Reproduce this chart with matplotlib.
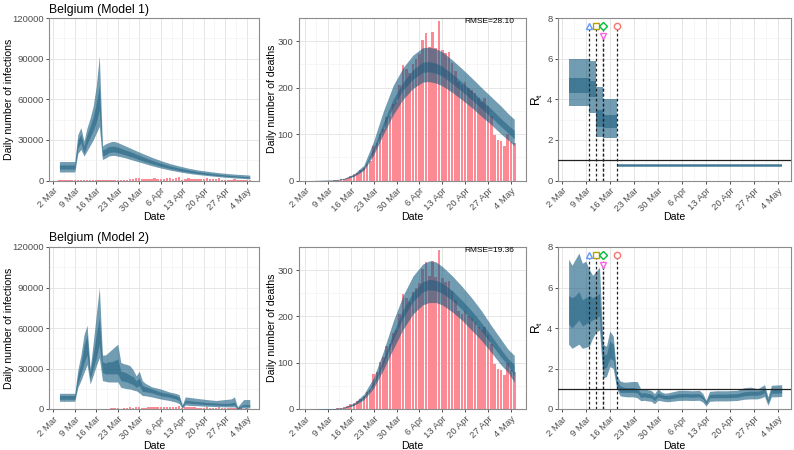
import matplotlib
matplotlib.use('Agg')
import matplotlib.pyplot as plt

plt.rcParams['font.family'] = ['Liberation Sans', 'DejaVu Sans']

# ---------------- data ----------------
tick_days = [0, 7, 14, 21, 28, 35, 42, 49, 56, 63]
tick_labels = ['2 Mar', '9 Mar', '16 Mar', '23 Mar', '30 Mar', '6 Apr', '13 Apr', '20 Apr', '27 Apr', '4 May']

obs_days = list(range(2, 65))
deaths = [0, 0, 0, 0, 0, 0, 0, 1, 2, 3, 4, 6, 10, 13, 17, 22, 28, 36, 42, 75, 80, 101, 112, 137, 140,
          165, 170, 205, 249, 240, 231, 252, 262, 272, 303, 317, 288, 319, 286, 344, 282, 275, 276,
          254, 235, 212, 206, 212, 200, 196, 188, 178, 170, 178, 160, 140, 98, 87, 85, 74, 100, 84, 81]
cases = [5, 10, 60, 59, 60, 30, 39, 28, 47, 85, 160, 130, 197, 172, 185, 243, 309, 462, 558, 586,
         342, 526, 668, 1298, 1049, 1850, 1702, 1063, 876, 1384, 1422, 1661, 1260, 1123, 1209, 1580,
         1684, 1351, 1629, 2454, 530, 1200, 1580, 1236, 1329, 1054, 933, 1045, 1487, 973, 1032, 933,
         1496, 701, 553, 647, 660, 1032, 620, 485, 360, 455, 361]

# Model 1 infections
inf1_days = [2, 3, 4, 5, 6, 7, 8, 9, 10, 11, 12, 13, 14, 15, 16, 17, 18, 19, 20, 21,
             23, 26, 29, 32, 35, 38, 41, 44, 47, 50, 53, 56, 59, 62, 64]
inf1_lo95 = [6300, 6300, 6300, 6300, 6300, 6300, 20000, 23000, 18000, 22000, 26000, 30000, 35000, 40000,
             15500, 16500, 18000, 18500, 18500, 18000, 17000, 15000, 13000, 11000, 9200, 7700, 6400,
             5300, 4400, 3700, 3000, 2400, 1900, 1500, 1200]
inf1_lo50 = [8500, 8500, 8500, 8500, 8500, 8500, 24000, 28000, 20000, 27000, 32000, 37000, 43000, 52000,
             18000, 19000, 20500, 21000, 21000, 20500, 19200, 17000, 14600, 12500, 10500, 8800, 7400,
             6200, 5200, 4400, 3700, 3100, 2600, 2100, 1800]
inf1_hi50 = [11500, 11500, 11500, 11500, 11500, 11500, 30000, 34000, 25000, 34000, 40000, 47000, 57000, 70000,
             22500, 23500, 25000, 25300, 25300, 24700, 23000, 20500, 17600, 15000, 12800, 10800, 9200,
             7800, 6600, 5600, 4800, 4100, 3500, 3000, 2700]
inf1_hi95 = [14000, 14000, 14000, 14000, 14000, 14000, 34000, 39000, 29000, 39000, 46000, 55000, 70000, 92000,
             25500, 27000, 28000, 28800, 28800, 28000, 26000, 23000, 20000, 17200, 14700, 12500, 10700,
             9100, 7800, 6900, 6000, 5300, 4700, 4300, 4000]

# Model 2 infections
inf2_days = [2, 3, 4, 5, 6, 7, 8, 9, 10, 11, 12, 13, 14, 15, 16, 17, 18, 19, 20, 21, 22, 23, 24, 25,
             26, 27, 28, 29, 30, 32, 35, 38, 40, 41, 42, 43, 44, 47, 50, 53, 56, 58, 59, 60, 62, 64]
inf2_lo95 = [5700, 5700, 5700, 5700, 5700, 5700, 16000, 21000, 27000, 33000, 18500, 25000, 32000, 38000,
             21000, 20500, 20000, 20000, 20000, 20000, 16000, 15500, 15000, 14800, 14000, 13500, 12000,
             10000, 9800, 9000, 7400, 6200, 5000, 4000, 500, 3000, 2700, 2400, 2000, 1800, 1600, 1500,
             1600, 200, 800, 700]
inf2_lo50 = [7200, 7200, 7200, 7200, 7200, 7200, 19000, 26000, 34000, 40000, 22000, 30000, 38000, 48000,
             27000, 26000, 26000, 26000, 26000, 26000, 21000, 20500, 20000, 19000, 18000, 16000, 17500,
             13000, 12800, 12000, 9800, 8700, 7300, 6300, 1200, 4500, 4300, 3800, 3200, 2900, 2600, 2700,
             2900, 500, 2000, 1900]
inf2_hi50 = [10000, 10000, 10000, 10000, 10000, 10000, 25000, 34000, 47000, 55000, 27000, 41000, 55000, 68000,
             35000, 34000, 35000, 35000, 36000, 37000, 28000, 27500, 26500, 25000, 24000, 21000, 23000,
             17500, 16500, 15000, 12500, 11200, 9800, 8800, 2400, 6500, 6200, 5500, 4800, 4400, 4000, 4500,
             5000, 1100, 3300, 3200]
inf2_hi95 = [11600, 11600, 11600, 11600, 11600, 11600, 29000, 40000, 55000, 62000, 30000, 49000, 70000, 90000,
             40000, 40000, 42000, 44000, 46000, 48000, 34500, 33500, 33000, 32000, 29000, 24600, 28000,
             21000, 19000, 16500, 14800, 12500, 11500, 10500, 3000, 9000, 8700, 7800, 7000, 6300, 7000, 7500,
             9000, 1600, 7000, 7000]

# Deaths fits
dth_days = [2, 9, 12, 15, 18, 21, 24, 27, 30, 33, 36, 38, 40, 42, 45, 48, 51, 54, 57, 60, 62, 64]
dth1_lo95 = [0, 0, 3, 9, 22, 55, 100, 142, 175, 198, 212, 213, 210, 204, 190, 174, 157, 138, 120, 100, 88, 75]
dth1_lo50 = [0, 0, 3, 10, 25, 62, 112, 160, 195, 218, 233, 234, 231, 225, 209, 192, 174, 155, 136, 116, 103, 90]
dth1_hi50 = [0, 1, 4, 12, 28, 70, 125, 176, 212, 238, 255, 256, 253, 246, 230, 212, 193, 173, 154, 133, 120, 108]
dth1_hi95 = [0, 1, 5, 14, 33, 85, 150, 205, 243, 270, 286, 287, 284, 277, 260, 241, 221, 200, 180, 160, 145, 132]
dth2_lo95 = [0, 0, 2, 8, 20, 45, 85, 130, 172, 205, 225, 230, 230, 225, 210, 192, 170, 148, 122, 95, 80, 58]
dth2_lo50 = [0, 0, 3, 9, 24, 52, 98, 150, 197, 232, 253, 258, 256, 250, 235, 215, 192, 168, 140, 112, 95, 72]
dth2_hi50 = [0, 1, 3, 11, 27, 58, 108, 165, 215, 252, 275, 280, 278, 272, 256, 235, 212, 186, 158, 128, 110, 96]
dth2_hi95 = [0, 1, 4, 13, 32, 68, 125, 190, 245, 287, 313, 320, 318, 308, 288, 265, 240, 212, 180, 150, 130, 116]
rmse1 = 'RMSE=28.10'
rmse2 = 'RMSE=19.36'

# Rt model 1 (piecewise constant)
rt1_breaks = [2, 8, 10, 12, 16, 64]
rt1_lo95 = [3.69, 3.34, 2.16, 2.07, 0.65]
rt1_lo50 = [4.3, 4.13, 2.65, 2.57, 0.69]
rt1_hi50 = [5.05, 4.9, 3.47, 3.23, 0.77]
rt1_hi95 = [6.0, 5.86, 4.6, 4.02, 0.81]

# Rt model 2
rt2_days = [2, 3, 4, 5, 6, 7, 8, 9, 10, 11, 12, 13, 14, 15, 16, 17, 18, 19, 20, 21, 22, 23, 24, 25, 26,
            27, 28, 29, 30, 31, 32, 33, 34, 36, 38, 40, 41, 42, 43, 45, 48, 51, 53, 55, 57, 58, 59, 60,
            61, 62, 64]
rt2_lo95 = [3.2, 3.0, 3.1, 3.2, 3.0, 3.05, 3.1, 3.5, 3.8, 3.9, 1.55, 1.6, 2.1, 2.0, 1.0, 0.65, 0.62, 0.6,
            0.6, 0.6, 0.55, 0.41, 0.43, 0.4, 0.38, 0.26, 0.43, 0.4, 0.37, 0.36, 0.38, 0.4, 0.42, 0.43, 0.42,
            0.43, 0.35, 0.15, 0.38, 0.4, 0.4, 0.42, 0.48, 0.5, 0.5, 0.55, 0.62, 0.18, 0.6, 0.6, 0.62]
rt2_lo50 = [4.2, 4.0, 4.2, 4.4, 4.1, 4.2, 4.3, 4.4, 4.5, 4.6, 2.0, 2.05, 2.5, 2.4, 1.15, 0.82, 0.82, 0.82,
            0.82, 0.82, 0.78, 0.57, 0.6, 0.57, 0.55, 0.42, 0.6, 0.55, 0.5, 0.5, 0.52, 0.55, 0.58, 0.6, 0.58,
            0.6, 0.5, 0.25, 0.55, 0.56, 0.56, 0.58, 0.65, 0.68, 0.68, 0.72, 0.8, 0.3, 0.78, 0.78, 0.8]
rt2_hi50 = [5.6, 5.5, 5.6, 5.8, 5.4, 5.5, 5.6, 5.5, 5.6, 5.7, 2.7, 2.7, 3.35, 3.2, 1.4, 1.15, 1.08, 1.06,
            1.06, 1.06, 1.0, 0.8, 0.8, 0.77, 0.75, 0.6, 0.8, 0.73, 0.67, 0.67, 0.7, 0.73, 0.76, 0.76, 0.75,
            0.76, 0.65, 0.36, 0.72, 0.74, 0.74, 0.76, 0.85, 0.88, 0.88, 0.92, 1.02, 0.45, 1.0, 1.0, 1.02]
rt2_hi95 = [7.4, 7.1, 7.4, 7.7, 7.2, 7.3, 6.9, 6.6, 6.8, 7.0, 3.2, 3.1, 3.85, 3.6, 1.65, 1.38, 1.33, 1.33,
            1.35, 1.36, 1.35, 0.98, 1.0, 0.95, 0.92, 0.76, 1.0, 0.84, 0.78, 0.8, 0.84, 0.88, 0.92, 0.92, 0.9,
            0.92, 0.78, 0.43, 0.87, 0.9, 0.9, 0.92, 1.05, 1.08, 1.0, 1.1, 1.2, 0.6, 1.17, 1.18, 1.2]

# Interventions
npi_days = [8, 10, 12, 12, 16]
npi_y = [7.6, 7.6, 7.6, 7.1, 7.6]
npi_markers = ['^', 's', 'D', 'v', 'o']
npi_colors = ['#619CFF', '#B79F00', '#00BA38', '#F564E3', '#F8766D']

titles = ['Belgium (Model 1)', 'Belgium (Model 2)']

# ---------------- style ----------------
BAND = '#145A7D'
BAR = '#FB8A94'
W, H = 794, 450


def axpos(x0, x1, ytop, ybot):
    return [x0 / W, 1 - ybot / H, (x1 - x0) / W, (ybot - ytop) / H]


def style(ax, xlim, ylim, yticks, yminor, ylabel, ylab_x, ylab_size=7.6):
    ax.set_xlim(*xlim)
    ax.set_ylim(*ylim)
    ax.set_xticks(tick_days)
    ax.set_xticklabels(tick_labels, rotation=45, ha='right', va='top', rotation_mode='anchor')
    ax.set_xticks([d + 3.5 for d in tick_days[:-1]], minor=True)
    ax.set_yticks(yticks)
    ax.set_yticks(yminor, minor=True)
    ax.grid(which='major', color='#E6E6E6', lw=0.7)
    ax.grid(which='minor', color='#F2F2F2', lw=0.45)
    ax.set_axisbelow(True)
    ax.tick_params(which='minor', length=0)
    ax.tick_params(which='major', length=2.5, width=0.6, color='#333333', labelsize=6.8,
                   labelcolor='#4D4D4D', pad=1.5)
    for s in ax.spines.values():
        s.set_color('#8C8C8C')
        s.set_linewidth(0.8)
    ax.set_xlabel('Date', fontsize=7.6)
    ax.xaxis.set_label_coords(0.5, -0.195)
    ax.set_ylabel(ylabel, fontsize=ylab_size)
    ax.yaxis.set_label_coords(ylab_x, 0.5)


def bands(ax, x, lo95, lo50, hi50, hi95, step=None):
    ax.fill_between(x, lo95, hi95, color=BAND, alpha=0.6, lw=0, step=step, zorder=3)
    ax.fill_between(x, lo50, hi50, color=BAND, alpha=0.5, lw=0, step=step, zorder=4)


fig = plt.figure(figsize=(7.94, 4.5), dpi=100)

rows = [(18, 180.5), (247, 409)]
inf_sets = [(inf1_days, inf1_lo95, inf1_lo50, inf1_hi50, inf1_hi95),
            (inf2_days, inf2_lo95, inf2_lo50, inf2_hi50, inf2_hi95)]
dth_sets = [(dth1_lo95, dth1_lo50, dth1_hi50, dth1_hi95),
            (dth2_lo95, dth2_lo50, dth2_hi50, dth2_hi95)]
rmses = [rmse1, rmse2]

for r, (yt, yb) in enumerate(rows):
    # infections
    ax1 = fig.add_axes(axpos(49, 259, yt, yb))
    ax1.bar(obs_days, cases, width=0.8, color=BAR, lw=0, zorder=2)
    d, a, b, c, e = inf_sets[r]
    bands(ax1, d, a, b, c, e)
    style(ax1, (-1.4, 67.0), (0, 120000), [0, 30000, 60000, 90000, 120000],
          [15000, 45000, 75000, 105000], 'Daily number of infections', -0.168)
    ax1.text(0, 1 + 5.5 / (yb - yt), titles[r], transform=ax1.transAxes, fontsize=8.8,
             va='baseline', ha='left')

    # deaths
    ax2 = fig.add_axes(axpos(299, 526, yt, yb))
    ax2.bar(obs_days, deaths, width=0.8, color=BAR, lw=0, zorder=2)
    a, b, c, e = dth_sets[r]
    bands(ax2, dth_days, a, b, c, e)
    style(ax2, (-1.83, 67.6), (0, 350), [0, 100, 200, 300], [50, 150, 250],
          'Daily number of deaths', -0.095)
    ax2.text(0.947, 0.998, rmses[r], transform=ax2.transAxes, fontsize=6.0, ha='right', va='top')

    # Rt
    ax3 = fig.add_axes(axpos(558, 791, yt, yb))
    if r == 0:
        bands(ax3, rt1_breaks, rt1_lo95 + rt1_lo95[-1:], rt1_lo50 + rt1_lo50[-1:],
              rt1_hi50 + rt1_hi50[-1:], rt1_hi95 + rt1_hi95[-1:], step='post')
    else:
        bands(ax3, rt2_days, rt2_lo95, rt2_lo50, rt2_hi50, rt2_hi95)
    ax3.axhline(1, color='#222222', lw=0.9, zorder=5)
    for xd, yv in zip(npi_days, npi_y):
        ax3.plot([xd, xd], [0, yv], ls=(0, (2.2, 1.8)), color='#222222', lw=0.9, zorder=6)
    for xd, yv, m, col in zip(npi_days, npi_y, npi_markers, npi_colors):
        ax3.plot([xd], [yv], marker=m, ms=4.5, mfc='white', mec=col, mew=1.0, ls='none', zorder=7)
    style(ax3, (-1.08, 66.7), (0, 8), [0, 2, 4, 6, 8], [1, 3, 5, 7], r'R$_\mathregular{t}$', -0.055,
          ylab_size=8.6)

fig.savefig('out.png', dpi=100)
